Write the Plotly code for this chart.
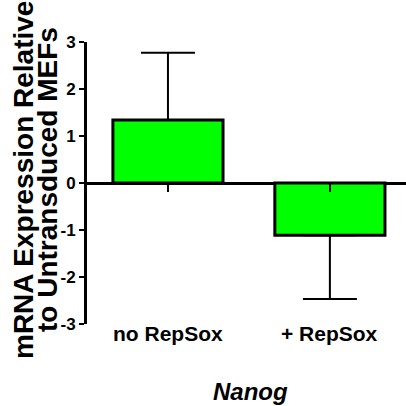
import plotly.graph_objects as go

categories = ["no RepSox", "+ RepSox"]
values = [1.34, -1.11]
err_plus = [1.43, 0.0]
err_minus = [0.0, 1.36]
y_ticks = [-3, -2, -1, 0, 1, 2, 3]
x_title = "Nanog"
y_title_lines = ["mRNA Expression Relative", "to Untransduced MEFs"]

FONT = "Liberation Sans, Arial, sans-serif"
L, R, T, B, W, H = 87, 0, 42, 82, 406, 406
PW = W - L - R

fig = go.Figure()
fig.add_trace(go.Bar(
    x=[0, 1], y=values, width=0.68,
    marker=dict(color="#00ff00", line=dict(color="black", width=3)),
    error_y=dict(type="data", symmetric=False, array=err_plus, arrayminus=err_minus,
                 color="black", thickness=2, width=27),
))

annotations = []
for i, c in enumerate(categories):
    annotations.append(dict(x=i, y=-3, xref="x", yref="y", text="<b>%s</b>" % c,
                            showarrow=False, yanchor="top", yshift=4,
                            font=dict(family=FONT, size=21, color="black")))
annotations.append(dict(x=(250 - L) / PW, y=0, xref="paper", yref="paper", text="<b><i>%s</i></b>" % x_title,
                        showarrow=False, yanchor="top", yshift=-52,
                        font=dict(family=FONT, size=24, color="black")))
for j, (line, xp) in enumerate(zip(y_title_lines, [23, 47])):
    annotations.append(dict(x=(xp - L) / PW, y=0.5, xref="paper", yref="paper",
                            text="<b>%s</b>" % line, textangle=-90, showarrow=False,
                            xanchor="center", yanchor="middle", xshift=0, yshift=3,
                            font=dict(family=FONT, size=28, color="black")))

fig.update_layout(
    width=W, height=H,
    margin=dict(l=L, r=R, t=T, b=B),
    paper_bgcolor="white", plot_bgcolor="white",
    showlegend=False,
    annotations=annotations,
    xaxis=dict(range=[-0.5, 1.47], anchor="free", position=0.5,
               tickvals=[0, 1], showticklabels=False, ticks="outside",
               ticklen=8, tickwidth=2, tickcolor="black",
               showline=False, showgrid=False, zeroline=False),
    yaxis=dict(range=[-3, 3], tickvals=y_ticks, ticktext=[str(t) for t in y_ticks],
               ticks="outside", ticklen=5, tickwidth=2, tickcolor="black",
               showline=True, linewidth=3, linecolor="black",
               showgrid=False, zeroline=True, zerolinecolor="black", zerolinewidth=3,
               tickfont=dict(family=FONT, size=17, color="black", weight="bold")),
)

fig.write_html("out.html")
